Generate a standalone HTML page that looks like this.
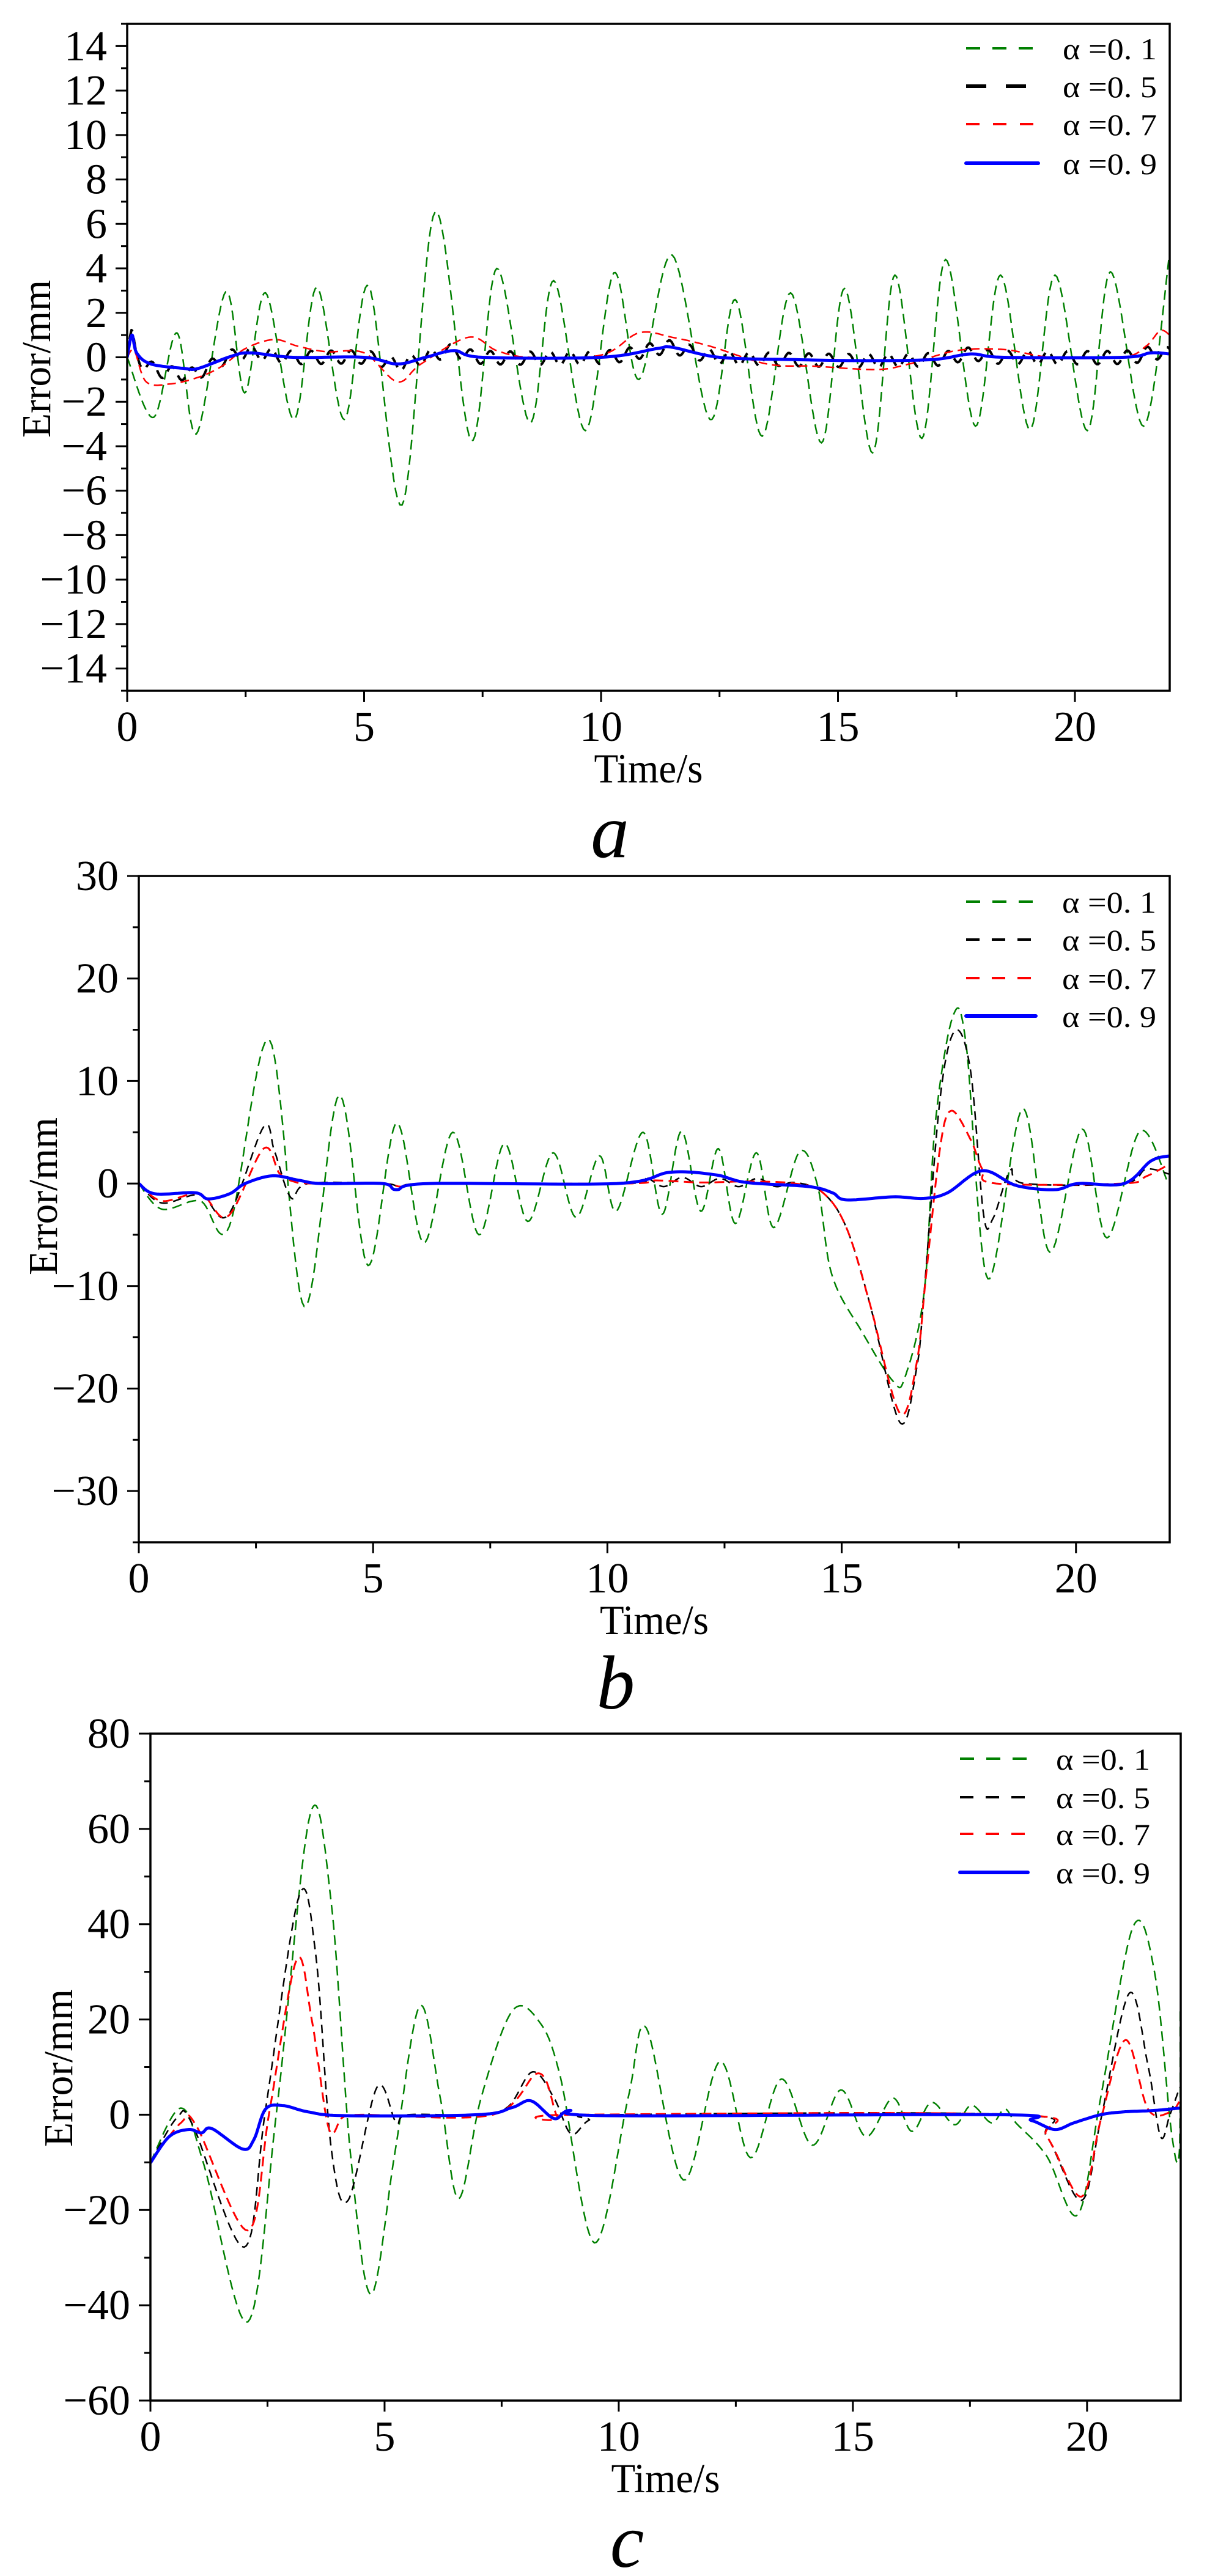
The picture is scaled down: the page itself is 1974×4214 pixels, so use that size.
<!DOCTYPE html>
<html><head><meta charset="utf-8">
<style>
html,body{margin:0;padding:0;background:#fff;}
svg{display:block;}
text{font-family:"Liberation Serif",serif;fill:#000;}
</style></head>
<body>
<svg id="s" width="1974" height="4214" viewBox="0 0 1974 4214" xmlns="http://www.w3.org/2000/svg"></svg>
<script>
const NS="http://www.w3.org/2000/svg";
const svg=document.getElementById('s');
function el(tag,attrs,txt){const e=document.createElementNS(NS,tag);for(const k in attrs)e.setAttribute(k,attrs[k]);if(txt!==undefined)e.textContent=txt;svg.appendChild(e);return e;}
function cr(pts){ // catmull-rom sampled
  const out=[];
  for(let i=0;i<pts.length-1;i++){
    const p0=pts[Math.max(0,i-1)],p1=pts[i],p2=pts[i+1],p3=pts[Math.min(pts.length-1,i+2)];
    const n=16;
    for(let k=0;k<n;k++){const t=k/n,t2=t*t,t3=t2*t;
      const f=(a,b,c,d)=>0.5*((2*b)+(-a+c)*t+(2*a-5*b+4*c-d)*t2+(-a+3*b-3*c+d)*t3);
      out.push([f(p0[0],p1[0],p2[0],p3[0]),f(p0[1],p1[1],p2[1],p3[1])]);}
  }
  out.push(pts[pts.length-1]);return out;
}
function interp(pts,t){for(let i=0;i<pts.length-1;i++){if(t<=pts[i+1][0]){const a=pts[i],b=pts[i+1];const u=(t-a[0])/(b[0]-a[0]||1);return a[1]+(b[1]-a[1])*u;}}return pts[pts.length-1][1];}

function chart(c){
  const X=t=>c.L+(c.R-c.L)*t/22, Y=v=>c.B-(c.B-c.T)*(v-c.ymin)/(c.ymax-c.ymin);
  // clip
  const id='cl'+c.name;
  const cp=el('clipPath',{id:id});const r=document.createElementNS(NS,'rect');
  r.setAttribute('x',c.L);r.setAttribute('y',c.T);r.setAttribute('width',c.R-c.L);r.setAttribute('height',c.B-c.T);cp.appendChild(r);
  // series
  for(const s of c.series){
    const pts=s.raw?s.pts:cr(s.pts);
    const d='M'+pts.map(p=>X(p[0]).toFixed(1)+','+Y(p[1]).toFixed(1)).join('L');
    el('path',{d:d,fill:'none',stroke:s.color,'stroke-width':s.w,'stroke-dasharray':s.dash||'none','clip-path':'url(#'+id+')','stroke-linejoin':'round'});
  }
  // frame
  el('rect',{x:c.L,y:c.T,width:c.R-c.L,height:c.B-c.T,fill:'none',stroke:'#000','stroke-width':3.5});
  // y ticks
  for(let v=c.ymin;v<=c.ymax+1e-9;v+=c.minor){
    const y=Y(v);const major=Math.abs(((v-c.y0)/c.major)-Math.round((v-c.y0)/c.major))<1e-6;
    el('line',{x1:c.L-(major?19:10),x2:c.L,y1:y,y2:y,stroke:'#000','stroke-width':3});
    if(major && v>=c.lmin && v<=c.lmax){
      el('text',{x:c.L-33,y:y+23,'font-size':70,'text-anchor':'end'},(v<0?'\u2212':'')+Math.abs(v));
    }
  }
  for(let t=0;t<=22;t+=2.5){
    const x=X(t);const major=(t%5)===0;
    el('line',{x1:x,x2:x,y1:c.B,y2:c.B+(major?18:10),stroke:'#000','stroke-width':3});
    if(major) el('text',{x:x,y:c.B+82,'font-size':70,'text-anchor':'middle'},String(t));
  }
  const cx=(c.L+c.R)/2;
  el('text',{x:cx,y:c.B+150,'font-size':68,'text-anchor':'middle',textLength:178,lengthAdjust:'spacingAndGlyphs'},'Time/s');
  el('text',{x:cx-63,y:c.B+272,'font-size':125,'font-style':'italic','text-anchor':'middle'},c.name);
  el('text',{x:c.ylx,y:c.yly,'font-size':67,'text-anchor':'middle',textLength:258,lengthAdjust:'spacingAndGlyphs',transform:'rotate(-90 '+c.ylx+' '+c.yly+')'},'Error/mm');
  // legend
  const labs=['0. 1','0. 5','0. 7','0. 9'];
  c.series.forEach((s,i)=>{});
  const order=c.legendOrder;
  for(let i=0;i<4;i++){
    const s=c.series[order[i]];const y=c.leg.rows[i];
    el('line',{x1:c.leg.x1,x2:c.leg.x2,y1:y,y2:y,stroke:s.color,'stroke-width':s.lw||s.w,'stroke-dasharray':s.ldash||s.dash||'none','stroke-linecap':s.dash?'butt':'round'});
    el('text',{x:c.leg.tx,y:y+18,'font-size':50,textLength:154,lengthAdjust:'spacingAndGlyphs'},'\u03b1 =' + labs[i]);
  }
}

// ---------- Chart a ----------
const aGreen=[[0,0],[0.56,-2.7],[1.05,1.1],[1.46,-3.45],[2.08,2.95],[2.48,-1.6],[2.92,2.9],[3.52,-2.8],[4.0,3.15],[4.58,-2.8],[5.1,3.2],[5.8,-6.65],[6.5,6.55],[7.26,-3.75],[7.8,4.0],[8.5,-2.95],[9.0,3.45],[9.67,-3.3],[10.27,3.8],[10.8,-1.0],[11.5,4.6],[12.3,-2.8],[12.83,2.6],[13.4,-3.55],[14.0,2.9],[14.65,-3.85],[15.14,3.1],[15.73,-4.3],[16.2,3.7],[16.77,-3.65],[17.27,4.4],[17.9,-3.1],[18.43,3.7],[19.05,-3.25],[19.58,3.7],[20.26,-3.3],[20.75,3.85],[21.45,-3.1],[22.0,4.7]];
const aRed=[[0,0],[0.15,0.3],[0.4,-1.1],[0.9,-1.2],[1.5,-0.9],[2.0,-0.4],[2.5,0.4],[3.1,0.8],[3.6,0.5],[4.2,0.25],[5.0,0.2],[5.7,-1.1],[6.2,-0.3],[7.2,0.9],[7.8,0.3],[8.5,0],[10.0,0.1],[10.8,1.1],[11.5,0.9],[12.3,0.5],[13.5,-0.3],[14.5,-0.4],[15.8,-0.55],[16.5,-0.3],[17.5,0.3],[18.5,0.35],[19.5,0],[21.0,0],[21.5,0.5],[21.8,1.2],[22,1.0]];
const aBlue=[[0,0],[0.1,1.0],[0.2,0.2],[0.5,-0.3],[1.2,-0.5],[1.5,-0.5],[2.2,0.05],[2.6,0.2],[3.5,0],[5.0,0],[5.7,-0.3],[6.3,0],[6.9,0.3],[7.5,0],[10.0,0],[11.2,0.4],[11.5,0.45],[12.5,0],[14.0,-0.1],[15.5,-0.15],[17.0,-0.1],[17.8,0.15],[18.5,0],[21.0,0],[21.6,0.2],[22,0.15]];
const aBlueS=cr(aBlue);
const aBlack=[];
for(let t=0;t<=22.001;t+=0.03){
  let b=interp(aBlueS,t);
  let amp=0.3;
  if(t<2.0) {b+= -0.25*Math.sin(Math.PI*t/2);}
  aBlack.push([t,b+amp*Math.sin(2*Math.PI*t/0.42)]);
}
chart({name:'a',L:208,R:1913,T:39,B:1130,ymin:-15,ymax:15,y0:0,major:2,minor:1,lmin:-14,lmax:14,
  ylx:82,yly:587,
  leg:{rows:[79,141,203,267],x1:1580,x2:1698,tx:1738},legendOrder:[0,1,2,3],
  series:[
    {color:'#008000',w:2.5,dash:'16 9',pts:aGreen,lw:4,ldash:'23 20'},
    {color:'#000',w:4,dash:'18 12',pts:aBlack,raw:true,lw:6,ldash:'33 32'},
    {color:'#ff0000',w:2.5,dash:'14 8',pts:aRed,lw:4,ldash:'22 22'},
    {color:'#0000ff',w:5,pts:aBlue,lw:6}
  ]});

// ---------- Chart b ----------
const bGreen=[[0,0],[0.49,-2.5],[1.31,-1.7],[1.93,-4.2],[2.79,14],[3.53,-12],[4.27,8.6],[4.89,-8],[5.5,5.9],[6.08,-5.8],[6.7,5.0],[7.26,-5.0],[7.8,3.9],[8.3,-3.7],[8.84,3.0],[9.33,-3.3],[9.83,2.7],[10.19,-2.7],[10.76,5.0],[11.17,-3.0],[11.58,5.1],[11.99,-2.7],[12.37,3.4],[12.73,-3.9],[13.18,3.0],[13.55,-4.3],[14.1,3.1],[14.49,-0.3],[14.79,-8.9],[15.45,-14.6],[16.1,-19.3],[16.35,-18.9],[16.76,-10.6],[17.0,6],[17.38,16.4],[17.66,13.4],[18.12,-9.3],[18.86,7.3],[19.44,-6.7],[20.13,5.3],[20.66,-5.3],[21.36,5.1],[21.97,0]];
const bBlack=[[0,0],[0.49,-1.9],[1.31,-1.1],[1.9,-3.1],[2.66,5.5],[2.9,3.1],[3.25,-1.4],[3.61,0],[5.2,0],[5.6,-0.3],[6.2,0],[10.4,0],[10.8,0.6],[11.2,-0.3],[11.6,0.6],[12.0,-0.3],[12.4,0.5],[12.8,-0.3],[13.2,0.5],[13.6,-0.3],[14.0,0.1],[14.6,-0.9],[15.1,-4.3],[15.6,-11.7],[16.24,-23.3],[16.6,-18],[16.76,-10.6],[17.1,8.3],[17.42,14.9],[17.75,11],[18.03,-3.1],[18.23,-3.4],[18.6,1.3],[18.9,0],[21.0,0],[21.5,1.4],[22,0.9]];
const bRed=[[0,0],[0.49,-1.7],[1.31,-1.0],[1.9,-3.2],[2.66,3.4],[3.0,1.0],[3.3,0.2],[3.7,0],[5.2,0],[5.6,-0.3],[6.2,0],[10.4,0],[11.0,0.3],[12.0,0.1],[13.0,0.2],[14.0,0],[14.6,-0.9],[15.1,-4.3],[15.6,-11.7],[16.24,-22.4],[16.6,-17.5],[16.8,-9],[17.1,3.5],[17.34,7.1],[17.75,4.3],[18.0,1.4],[18.3,0],[21.0,0],[21.5,0.7],[22,1.9]];
const bBlue=[[0,0],[0.34,-1.0],[1.2,-0.9],[1.48,-1.5],[1.94,-1.0],[2.27,0],[2.85,0.75],[3.43,0.3],[3.9,0],[5.2,0],[5.5,-0.6],[6.2,0],[10.2,0],[11.34,1.1],[12.3,0.85],[12.97,0.1],[14.3,-0.3],[14.8,-0.9],[15.1,-1.6],[16.1,-1.3],[16.76,-1.45],[17.26,-0.9],[18.0,1.25],[18.73,-0.2],[19.55,-0.6],[20.05,0],[21.03,0],[21.6,2.2],[22,2.7]];
chart({name:'b',L:227,R:1913,T:1433,B:2523,ymin:-35,ymax:30,y0:0,major:10,minor:5,lmin:-30,lmax:30,
  ylx:93,yly:1957,
  leg:{rows:[1475,1537,1600,1662],x1:1580,x2:1694,tx:1737},legendOrder:[0,1,2,3],
  series:[
    {color:'#008000',w:2.5,dash:'16 9',pts:bGreen,lw:4,ldash:'23 20'},
    {color:'#000',w:2.5,dash:'14 9',pts:bBlack,lw:4,ldash:'22 20'},
    {color:'#ff0000',w:3,dash:'16 9',pts:bRed,lw:4,ldash:'22 20'},
    {color:'#0000ff',w:5,pts:bBlue,lw:6}
  ]});

// ---------- Chart c ----------
const cGreen=[[0,-10],[0.65,1.4],[1.14,-10.4],[2.08,-43.5],[2.7,1.2],[3.41,63],[3.86,44.6],[4.27,-8],[4.71,-37.7],[5.22,-8],[5.75,22.8],[6.19,3.5],[6.58,-17.6],[7.06,3.5],[7.72,21.7],[8.29,19.7],[8.75,8.1],[9.48,-26.9],[10.2,3.5],[10.59,18.2],[11.38,-13.7],[12.16,11.2],[12.81,-9],[13.47,7.5],[14.13,-6.4],[14.74,5.2],[15.28,-4.6],[15.85,3.5],[16.26,-3.5],[16.68,2.6],[17.17,-2.1],[17.53,2.0],[17.96,-1.7],[18.24,1.2],[18.48,-1.7],[19.14,-8.7],[19.8,-21],[20.29,3.5],[20.98,39.4],[21.44,30],[21.8,-3.5],[21.97,-8],[21.99,22]];
const cBlack=[[0,-10],[0.57,-0.6],[0.9,-2.1],[2.0,-27.8],[2.46,1.2],[3.17,45.8],[3.53,33.6],[3.86,-7],[4.22,-18],[4.84,5.8],[5.25,-1.7],[5.5,0],[6.98,0],[7.64,1.7],[8.16,9],[8.62,3.5],[8.98,-4],[9.36,-1.2],[9.94,0],[18.48,0],[19.14,-4.6],[19.88,-18],[20.29,-1.2],[20.9,25.5],[21.3,10.4],[21.57,-4.6],[21.77,0],[21.98,5.8]];
const cRed=[[0,-10],[0.65,-1.7],[0.98,-2.3],[2.08,-24.3],[2.54,0.6],[3.12,32.5],[3.45,19.7],[3.81,-2.9],[4.1,-0.6],[4.5,0],[7.31,0],[8.29,8.7],[8.7,-0.6],[9.0,0],[18.48,0],[19.14,-4.6],[19.88,-17.2],[20.29,-1.2],[20.82,15.7],[21.3,1.2],[21.77,0.5],[21.98,2.9]];
const cBlue=[[0,-10.1],[0.4,-4.6],[0.81,-3.1],[1.09,-3.8],[1.31,-2.9],[1.97,-7.2],[2.21,-5.2],[2.46,1.2],[2.84,1.9],[3.37,0.6],[4.18,-0.2],[6.98,0],[7.72,1.5],[8.13,2.9],[8.62,-0.8],[8.95,0.9],[9.78,-0.2],[18.15,0],[18.81,-1.2],[19.31,-3.1],[19.72,-1.7],[20.29,0],[20.78,0.6],[21.44,0.9],[21.98,1.4]];
chart({name:'c',L:246,R:1931,T:2836,B:3927,ymin:-60,ymax:80,y0:0,major:20,minor:10,lmin:-60,lmax:80,
  ylx:118,yly:3383,
  leg:{rows:[2877,2940,3000,3063],x1:1570,x2:1681,tx:1727},legendOrder:[0,1,2,3],
  series:[
    {color:'#008000',w:2.5,dash:'16 9',pts:cGreen,lw:4,ldash:'23 20'},
    {color:'#000',w:2.5,dash:'14 9',pts:cBlack,lw:4,ldash:'22 20'},
    {color:'#ff0000',w:3,dash:'16 9',pts:cRed,lw:4,ldash:'22 20'},
    {color:'#0000ff',w:5,pts:cBlue,lw:6}
  ]});
</script>
</body></html>
